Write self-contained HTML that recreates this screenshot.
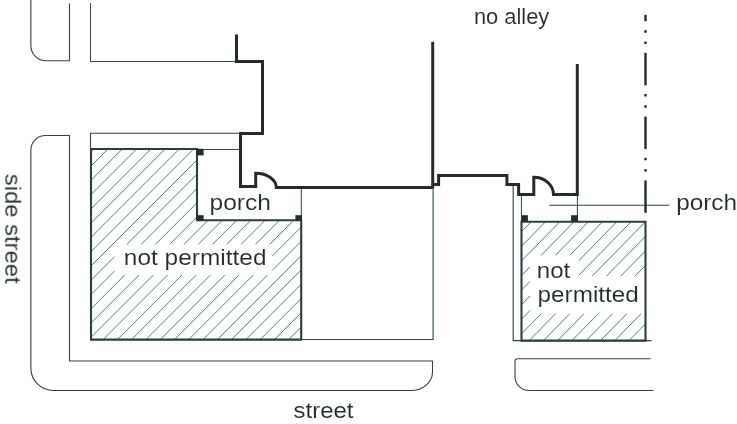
<!DOCTYPE html>
<html><head><meta charset="utf-8"><style>
html,body{margin:0;padding:0;background:#fff;width:737px;height:424px;overflow:hidden}
svg{display:block}
text{-webkit-font-smoothing:antialiased}
svg g.t{will-change:transform}
text{font-family:"Liberation Sans",sans-serif}
</style></head><body>
<svg width="737" height="424" viewBox="0 0 737 424">
<rect width="737" height="424" fill="#fff"/>
<g stroke="#3f7f80" stroke-width="0.95">
<line x1="93.72" y1="149.00" x2="91.00" y2="151.72"/>
<line x1="108.00" y1="149.00" x2="91.00" y2="166.00"/>
<line x1="122.28" y1="149.00" x2="91.00" y2="180.28"/>
<line x1="136.56" y1="149.00" x2="91.00" y2="194.56"/>
<line x1="150.84" y1="149.00" x2="91.00" y2="208.84"/>
<line x1="165.12" y1="149.00" x2="91.00" y2="223.12"/>
<line x1="179.40" y1="149.00" x2="91.00" y2="237.40"/>
<line x1="193.68" y1="149.00" x2="91.00" y2="251.68"/>
<line x1="197.00" y1="159.96" x2="91.00" y2="265.96"/>
<line x1="197.00" y1="174.24" x2="126.84" y2="244.40"/>
<line x1="114.60" y1="256.64" x2="91.00" y2="280.24"/>
<line x1="197.00" y1="188.52" x2="141.12" y2="244.40"/>
<line x1="114.60" y1="270.92" x2="91.00" y2="294.52"/>
<line x1="197.00" y1="202.80" x2="155.40" y2="244.40"/>
<line x1="124.70" y1="275.10" x2="91.00" y2="308.80"/>
<line x1="197.00" y1="217.08" x2="169.68" y2="244.40"/>
<line x1="138.98" y1="275.10" x2="91.00" y2="323.08"/>
<line x1="208.16" y1="220.20" x2="183.96" y2="244.40"/>
<line x1="153.26" y1="275.10" x2="91.00" y2="337.36"/>
<line x1="222.44" y1="220.20" x2="198.24" y2="244.40"/>
<line x1="167.54" y1="275.10" x2="103.04" y2="339.60"/>
<line x1="236.72" y1="220.20" x2="212.52" y2="244.40"/>
<line x1="181.82" y1="275.10" x2="117.32" y2="339.60"/>
<line x1="251.00" y1="220.20" x2="226.80" y2="244.40"/>
<line x1="196.10" y1="275.10" x2="131.60" y2="339.60"/>
<line x1="265.28" y1="220.20" x2="241.08" y2="244.40"/>
<line x1="210.38" y1="275.10" x2="145.88" y2="339.60"/>
<line x1="279.56" y1="220.20" x2="255.36" y2="244.40"/>
<line x1="224.66" y1="275.10" x2="160.16" y2="339.60"/>
<line x1="293.84" y1="220.20" x2="269.64" y2="244.40"/>
<line x1="238.94" y1="275.10" x2="174.44" y2="339.60"/>
<line x1="301.20" y1="227.12" x2="272.10" y2="256.22"/>
<line x1="253.22" y1="275.10" x2="188.72" y2="339.60"/>
<line x1="301.20" y1="241.40" x2="272.10" y2="270.50"/>
<line x1="267.50" y1="275.10" x2="203.00" y2="339.60"/>
<line x1="301.20" y1="255.68" x2="217.28" y2="339.60"/>
<line x1="301.20" y1="269.96" x2="231.56" y2="339.60"/>
<line x1="301.20" y1="284.24" x2="245.84" y2="339.60"/>
<line x1="301.20" y1="298.52" x2="260.12" y2="339.60"/>
<line x1="301.20" y1="312.80" x2="274.40" y2="339.60"/>
<line x1="301.20" y1="327.08" x2="288.68" y2="339.60"/>
<line x1="531.29" y1="221.70" x2="521.50" y2="231.71"/>
<line x1="545.56" y1="221.70" x2="521.50" y2="246.30"/>
<line x1="559.83" y1="221.70" x2="521.50" y2="260.89"/>
<line x1="574.10" y1="221.70" x2="541.14" y2="255.40"/>
<line x1="530.00" y1="266.79" x2="521.50" y2="275.48"/>
<line x1="588.37" y1="221.70" x2="555.41" y2="255.40"/>
<line x1="530.00" y1="281.38" x2="521.50" y2="290.07"/>
<line x1="602.64" y1="221.70" x2="569.68" y2="255.40"/>
<line x1="530.00" y1="295.97" x2="521.50" y2="304.66"/>
<line x1="616.91" y1="221.70" x2="578.70" y2="260.77"/>
<line x1="530.00" y1="310.56" x2="521.50" y2="319.26"/>
<line x1="631.18" y1="221.70" x2="578.70" y2="275.36"/>
<line x1="541.11" y1="313.80" x2="521.50" y2="333.85"/>
<line x1="645.45" y1="221.70" x2="592.15" y2="276.20"/>
<line x1="555.38" y1="313.80" x2="529.16" y2="340.60"/>
<line x1="645.50" y1="236.24" x2="606.42" y2="276.20"/>
<line x1="569.65" y1="313.80" x2="543.43" y2="340.60"/>
<line x1="645.50" y1="250.83" x2="620.69" y2="276.20"/>
<line x1="583.92" y1="313.80" x2="557.70" y2="340.60"/>
<line x1="645.50" y1="265.42" x2="634.96" y2="276.20"/>
<line x1="598.19" y1="313.80" x2="571.97" y2="340.60"/>
<line x1="612.46" y1="313.80" x2="586.24" y2="340.60"/>
<line x1="626.73" y1="313.80" x2="600.51" y2="340.60"/>
<line x1="641.00" y1="313.80" x2="614.78" y2="340.60"/>
<line x1="645.50" y1="323.78" x2="629.05" y2="340.60"/>
<line x1="645.50" y1="338.38" x2="643.32" y2="340.60"/>
</g>
<g fill="none" stroke="#2c4445">
<path d="M30.85,0 V45.5 A15.3,15.3 0 0 0 46.15,60.8 H69.5 V3.5" stroke-width="1.1"/>
<path d="M90.5,3 V61.5 H236" stroke-width="0.98"/>
<path d="M69.5,135.5 H45.5 A14.65,14.65 0 0 0 30.85,150.15 V368 A22.5,22.5 0 0 0 53.35,390.5 H411 A21.5,18.5 0 0 0 432.5,372 V361 H69.5 Z" stroke-width="1.1"/>
<path d="M90.5,149 V133.2 H239" stroke-width="1.1"/>
<path d="M197,149.5 H239" stroke-width="0.98"/>
<path d="M301.3,188 V220" stroke-width="1.02"/>
<path d="M301,339.5 H433.1 V188" stroke-width="1.1"/>
<path d="M513.2,185 V340.6 H651.5" stroke-width="1.15"/>
<path d="M521.45,195 V222" stroke-width="0.98"/>
<path d="M577.4,195 V222" stroke-width="1.02"/>
<path d="M653.5,390.5 H529 A14,14 0 0 1 515,376.5 V361.3 A2.5,2.5 0 0 1 517.5,358.8 H650.5" stroke-width="1.1"/>
<path d="M549.2,205.3 H669.4" stroke-width="1.06"/>
</g>
<g fill="none" stroke="#2e3c3e" stroke-width="2.1">
<path d="M91,149 H197 V220.2 H301.2 V339.6 H91 Z"/>
<path d="M521.5,221.7 H645.5 V340.6 H521.5 Z"/>
</g>
<g fill="#252b2d">
<rect x="196.3" y="148.8" width="7.3" height="6.6"/>
<rect x="196.3" y="215.2" width="7.3" height="5.8"/>
<rect x="295.4" y="215.2" width="6.6" height="5.8"/>
<rect x="521.7" y="215.2" width="6.2" height="5.9"/>
<rect x="571.1" y="215.2" width="6.8" height="5.9"/>
</g>
<g fill="none" stroke="#252b2d" stroke-width="3.0" stroke-linejoin="miter" stroke-linecap="butt">
<path d="M236.5,34.4 V61.5 H262.5 V133.5 H240.5 V186.5 H255.7 V173.3 A20.6,14.1 0 0 1 276.3,187.4 H432.7"/>
<path d="M432.7,41.8 V188.5"/>
<path d="M432.7,184.4 H438.6 V175.5 H506.9 V184.5 H518.6 V194.5 H533.8 V177.2 A19.7,17.3 0 0 1 553.5,194.5 H577.3 V64"/>
</g>
<g stroke="#252b2d" stroke-width="2.4">
<line x1="645.5" y1="14.8" x2="645.5" y2="21.2"/>
<line x1="645.5" y1="52.8" x2="645.5" y2="85.3"/>
<line x1="645.5" y1="116.6" x2="645.5" y2="149.1"/>
<line x1="645.5" y1="180.4" x2="645.5" y2="212.8"/>
<line x1="645.5" y1="30.2" x2="645.5" y2="32.8"/>
<line x1="645.5" y1="41.5" x2="645.5" y2="44.0"/>
<line x1="645.5" y1="94.0" x2="645.5" y2="96.5"/>
<line x1="645.5" y1="105.2" x2="645.5" y2="107.8"/>
<line x1="645.5" y1="157.8" x2="645.5" y2="160.3"/>
<line x1="645.5" y1="169.1" x2="645.5" y2="171.6"/>
</g>
<g class="t" fill="#222a2c" stroke="#fff" stroke-width="0.12" font-family="Liberation Sans, sans-serif">
<text x="473.95" y="24.01" font-size="22.0" textLength="75.35" lengthAdjust="spacingAndGlyphs">no alley</text>
<text x="209.50" y="209.50" font-size="22.0" textLength="61.31" lengthAdjust="spacingAndGlyphs">porch</text>
<text x="676.19" y="209.64" font-size="22.0" textLength="60.90" lengthAdjust="spacingAndGlyphs">porch</text>
<text x="123.86" y="265.41" font-size="22.0" textLength="142.61" lengthAdjust="spacingAndGlyphs">not permitted</text>
<text x="536.85" y="277.58" font-size="22.0" textLength="33.45" lengthAdjust="spacingAndGlyphs">not</text>
<text x="537.58" y="302.44" font-size="22.0" textLength="101.25" lengthAdjust="spacingAndGlyphs">permitted</text>
<text x="293.62" y="418.41" font-size="22.0" textLength="59.92" lengthAdjust="spacingAndGlyphs">street</text>
<text x="0" y="0" font-size="22.0" textLength="109.75" lengthAdjust="spacingAndGlyphs" transform="translate(5.25,173.79) rotate(90)">side street</text>
</g>
</svg>
</body></html>
